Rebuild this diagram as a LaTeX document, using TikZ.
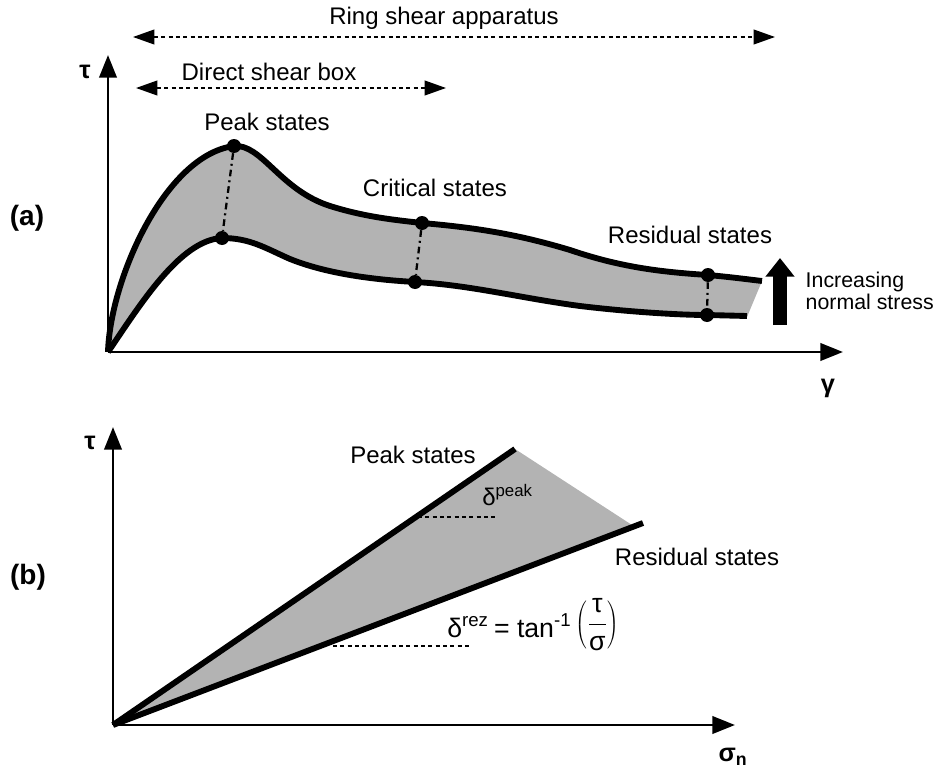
\documentclass[tikz,border=0pt]{standalone}
\usepackage{fontspec}
\setmainfont{Liberation Sans}
\usetikzlibrary{arrows.meta}
\definecolor{bandgray}{RGB}{179,179,179}

\begin{document}
\begin{tikzpicture}[x=0.75pt,y=-0.75pt,every node/.style={font=\fontsize{18}{20}\selectfont},
  axis/.style={line width=2.2pt,-{Triangle[length=17pt,width=13pt]}},
  testspan/.style={line width=1.4pt,dash pattern=on 3pt off 2.5pt,{Triangle[length=16pt,width=11pt]}-{Triangle[length=16pt,width=11pt]}},
  curve/.style={line width=4.4pt},
  tie/.style={line width=1.7pt,dash pattern=on 5pt off 3pt on 1.5pt off 3pt},
  guide/.style={line width=1.2pt,dash pattern=on 3pt off 2.5pt},
  state/.style={circle,fill,inner sep=0pt,minimum size=10.5pt},
  tag/.style={font=\bfseries\fontsize{21}{24}\selectfont}]
  \useasboundingbox (0,0) rectangle (936,771);
  % (a) stress--strain band
  \coordinate (oA) at (108,352);
  \coordinate (yA) at (108,55);
  \coordinate (xA) at (843,352);
  \fill[bandgray] (108,352) .. controls (110,280) and (165,155) .. (234,146)
    .. controls (262,144) and (280,190) .. (330,206) .. controls (365,217) and (395,220) .. (422,223)
    .. controls (480,228) and (520,235) .. (570,250) .. controls (620,267) and (660,272) .. (708,275)
    .. controls (730,277) and (745,279) .. (762,281) -- (747,317) -- (707,315)
    .. controls (680,315) and (630,312) .. (580,306) .. controls (520,298) and (470,285) .. (415,282)
    .. controls (380,280) and (330,275) .. (290,259) .. controls (265,248) and (250,238) .. (222,238)
    .. controls (180,240) and (140,305) .. (108,352) -- cycle;
  \draw[curve] (108,352) .. controls (110,280) and (165,155) .. (234,146)
    .. controls (262,144) and (280,190) .. (330,206) .. controls (365,217) and (395,220) .. (422,223)
    .. controls (480,228) and (520,235) .. (570,250) .. controls (620,267) and (660,272) .. (708,275)
    .. controls (730,277) and (745,279) .. (762,281);
  \draw[curve] (108,352) .. controls (140,305) and (180,240) .. (222,238)
    .. controls (250,238) and (265,248) .. (290,259) .. controls (330,275) and (380,280) .. (415,282)
    .. controls (470,285) and (520,298) .. (580,306) .. controls (630,312) and (680,315) .. (707,315)
    -- (747,316);
  \node[state] (pkU) at (234,146) {};
  \node[state] (pkL) at (222,238) {};
  \node[state] (crU) at (422,223) {};
  \node[state] (crL) at (415,282) {};
  \node[state] (rsU) at (708,275) {};
  \node[state] (rsL) at (707,315) {};
  \draw[tie] (pkU) -- (pkL);
  \draw[tie] (crU) -- (crL);
  \draw[tie] (rsU) -- (rsL);
  \draw[axis] (oA) -- (yA);
  \draw[axis] (oA) -- (xA);
  \coordinate (ringL) at (133,37);
  \coordinate (ringR) at (775,37);
  \coordinate (boxL) at (136,88);
  \coordinate (boxR) at (446,88);
  \draw[testspan] (ringL) -- (ringR);
  \draw[testspan] (boxL) -- (boxR);
  \node (ring) at (444,18) {Ring shear apparatus};
  \node (box) at (269,72) {Direct shear box};
  \node (peakA) at (267,122) {Peak states};
  \node (critA) at (435,188) {Critical states};
  \node (resA) at (690,235) {Residual states};
  \coordinate (upS) at (780,325);
  \coordinate (upE) at (780,258);
  \draw[line width=11pt,-{Triangle[length=14pt,width=21pt]}] (upS) -- (upE);
  \node[anchor=west,align=left,font=\fontsize{16}{17}\selectfont] (incr) at (801,291) {Increasing\\normal stress};
  \node[tag] (labA) at (27,218) {(a)};
  \node[font=\bfseries\fontsize{19}{20}\selectfont] (tauA) at (85,72) {τ};
  \node[font=\bfseries\fontsize{19}{20}\selectfont] (gamA) at (828,388) {γ};
  % (b) failure envelopes
  \coordinate (oB) at (113,725);
  \coordinate (yB) at (113,427);
  \coordinate (xB) at (735,725);
  \coordinate (pkEnd) at (515,449);
  \coordinate (rsEnd) at (643,523);
  \fill[bandgray] (oB) -- (pkEnd) -- (632,525) -- cycle;
  \draw[curve] (oB) -- (pkEnd);
  \draw[curve] (oB) -- (rsEnd);
  \draw[axis] (oB) -- (yB);
  \draw[axis] (oB) -- (xB);
  \coordinate (gPk1) at (418,517);
  \coordinate (gPk2) at (497,517);
  \coordinate (gRs1) at (333,646);
  \coordinate (gRs2) at (472,646);
  \draw[guide] (gPk1) -- (gPk2);
  \draw[guide] (gRs1) -- (gRs2);
  \node (peakB) at (413,455) {Peak states};
  \node (resB) at (697,557) {Residual states};
  \node[anchor=base west,inner sep=0pt] (dPk) at (482,505) {δ\textsuperscript{peak}};
  \node[anchor=base west,inner sep=0pt,font=\fontsize{20}{22}\selectfont] (dRs) at (447,637) {δ\textsuperscript{rez}\hspace{4pt}= tan\textsuperscript{-1}\,\raisebox{4pt}{$\displaystyle\left(\frac{\mbox{τ}}{\mbox{σ}}\right)$}};
  \node[tag] (labB) at (28,577) {(b)};
  \node[font=\bfseries\fontsize{19}{20}\selectfont] (tauB) at (90,443) {τ};
  \node[font=\bfseries\fontsize{19}{20}\selectfont] (sigB) at (733,757) {σ\textsubscript{n}};
\end{tikzpicture}
\end{document}
